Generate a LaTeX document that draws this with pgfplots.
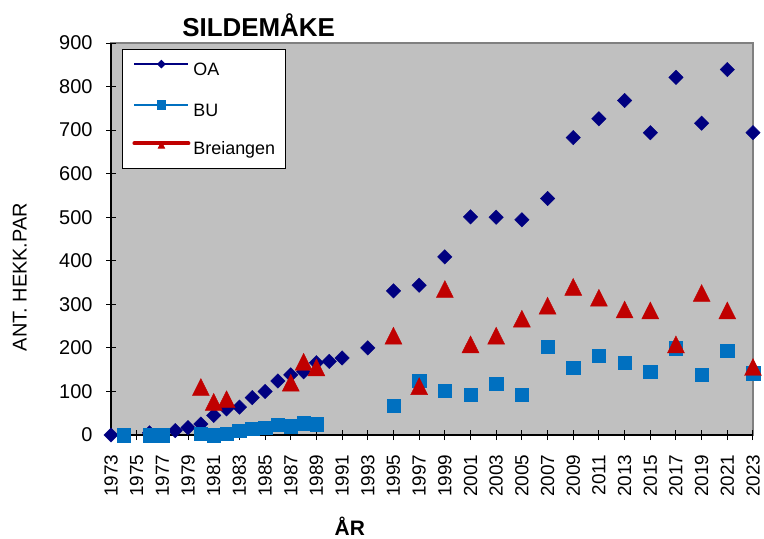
\documentclass[border=0pt]{standalone}
\usepackage{pgfplots}
\pgfplotsset{compat=1.18}
\usepackage{fontspec}
\setmainfont{Liberation Sans}

\definecolor{oa}{HTML}{000080}
\definecolor{bu}{HTML}{0070C0}
\definecolor{brei}{HTML}{C00000}
\definecolor{bgc}{HTML}{C0C0C0}
\definecolor{framec}{HTML}{808080}

\begin{document}
\begin{tikzpicture}
\path[use as bounding box] (-111bp,-104bp) rectangle (653bp,435bp);
\begin{axis}[
    at={(0,0)}, anchor=south west,
    scale only axis,
    width=642bp, height=392bp,
    xmin=1973, xmax=2023,
    ymin=0, ymax=900,
    xtick={1973,1975,...,2023},
    minor x tick num=1,
    ytick={0,100,...,900},
    axis x line*=bottom, axis y line*=left,
    axis line style={black, line width=1.5bp},
    axis background/.style={fill=bgc, draw=framec, line width=2bp},
    tick align=center,
    major tick length=10bp, minor tick length=10bp,
    tick style={black, line width=1bp},
    /pgf/number format/assume math mode=true,
    /pgf/number format/1000 sep={},
    ticklabel style={font=\fontsize{20}{24}\selectfont},
    xticklabel style={rotate=90, anchor=east, inner sep=0.5bp,
        font=\fontsize{19}{24}\selectfont},
    xticklabel shift=14bp,
    yticklabel shift=10bp,
    clip=false,
    legend cell align=left,
    legend style={at={(axis description cs:0.017,0.985)}, anchor=north west,
        draw=black, line width=1bp, fill=white,
        font=\fontsize{18}{20}\selectfont,
        inner xsep=10bp, inner ysep=11bp, row sep=22bp, column sep=3bp,
        nodes={inner sep=0pt, text height=13bp, text depth=3bp}},
]

% OA
\addplot[only marks, mark=square*, mark size=5.1bp, color=oa,
    mark options={rotate=45},
    legend image code/.code={
        \draw[oa, line width=1.5bp] (0bp,6.5bp) -- (54bp,6.5bp);
        \draw[oa, mark=square*, mark size=2.6bp, mark options={rotate=45}] plot coordinates {(27bp,6.5bp)};
    }] coordinates {
    (1973,0) (1976,5) (1978,10) (1979,17) (1980,25) (1981,45) (1982,60)
    (1983,64) (1984,86) (1985,100) (1986,124) (1987,138) (1988,145)
    (1989,166) (1990,169) (1991,177) (1993,200) (1995,331) (1997,344)
    (1999,409) (2001,501) (2003,500) (2005,494) (2007,543) (2009,683)
    (2011,726) (2013,768) (2015,694) (2017,821) (2019,716) (2021,839)
    (2023,694)
};
\addlegendentry{OA}

% BU
\addplot[only marks, mark=square*, mark size=6.7bp, color=bu,
    legend image code/.code={
        \draw[bu, line width=1.5bp] (0bp,6.5bp) -- (54bp,6.5bp);
        \draw[bu, mark=square*, mark size=4.3bp] plot coordinates {(27bp,6.5bp)};
    }] coordinates {
    (1974,0) (1976,0) (1977,0) (1980,3) (1981,0) (1982,3) (1983,10)
    (1984,15) (1985,17) (1986,23) (1987,20) (1988,27) (1989,25)
    (1995,67) (1997,125) (1999,102) (2001,92) (2003,118) (2005,92)
    (2007,203) (2009,155) (2011,182) (2013,166) (2015,145) (2017,199)
    (2019,138) (2021,194) (2023,142)
};
\addlegendentry{BU}

% Breiangen
\addplot[only marks, mark=triangle*, mark size=9.8bp, color=brei,
    mark options={yshift=-2.8bp, yscale=1.15},
    legend image code/.code={
        \draw[brei, line width=4bp, line cap=round] (0bp,6.5bp) -- (54bp,6.5bp);
        \draw[brei, mark=triangle*, mark size=3.5bp] plot coordinates {(27bp,6.5bp)};
    }] coordinates {
    (1980,110) (1981,76) (1982,82) (1987,120) (1988,168) (1989,155)
    (1995,228) (1997,112) (1999,335) (2001,208) (2003,228) (2005,267)
    (2007,297) (2009,340) (2011,315) (2013,288) (2015,286) (2017,208)
    (2019,326) (2021,286) (2023,156)
};
\addlegendentry{Breiangen}

\node[font=\bfseries\fontsize{26}{30}\selectfont] at (axis description cs:0.23,1.046) {SILDEMÅKE};
\node[rotate=90, font=\fontsize{20}{24}\selectfont] at (axis description cs:-0.142,0.403) {ANT. HEKK.PAR};
\node[font=\bfseries\fontsize{21}{24}\selectfont, inner sep=1bp] at (axis description cs:0.372,-0.232) {ÅR};
\end{axis}
\end{tikzpicture}
\end{document}
